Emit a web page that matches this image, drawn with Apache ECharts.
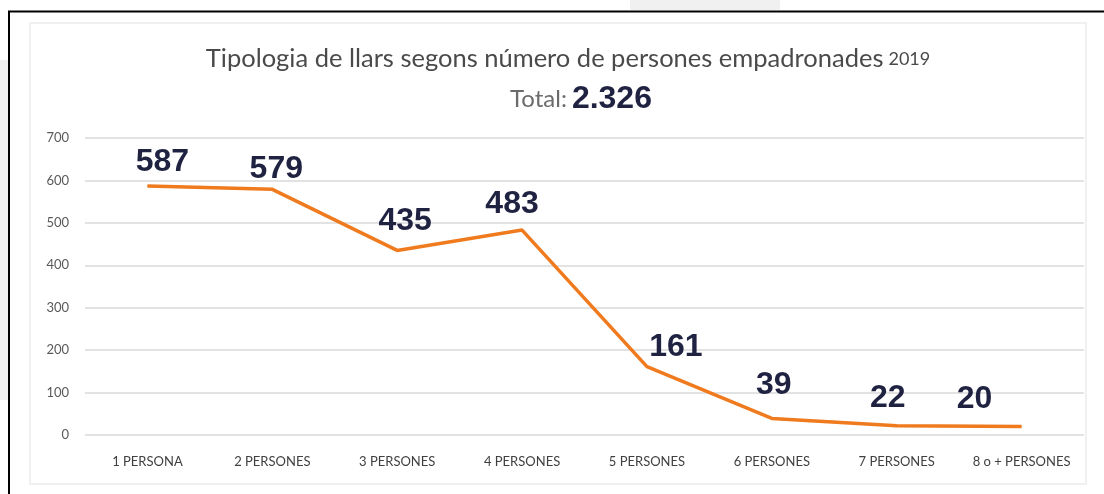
<!DOCTYPE html>
<html>
<head>
<meta charset="utf-8">
<script src="https://cdn.jsdelivr.net/npm/echarts@6/dist/echarts.min.js"></script>
<style>
  html, body { margin: 0; padding: 0; background: #fff; }
  #chart { width: 1104px; height: 494px; }
</style>
</head>
<body>
<div id="chart"></div>
<script>
// dades
var categories = ['1 PERSONA', '2 PERSONES', '3 PERSONES', '4 PERSONES', '5 PERSONES', '6 PERSONES', '7 PERSONES', '8 o + PERSONES'];
var llars = [587, 579, 435, 483, 161, 39, 22, 20];
var yTicks = [0, 100, 200, 300, 400, 500, 600, 700];
var titleText = 'Tipologia de llars segons número de persones empadronades';
var titleYear = '2019';
var totalText = '2.326';

// desplaçament manual de les etiquetes (com a l'original)
var labelShift = [[15, -2], [4, 1], [8, -8], [-10, -4], [29, 2], [2, -12], [-9, -6], [-47, -6]];

var myChart = echarts.init(document.getElementById('chart'));

var seriesData = llars.map(function (v, i) {
    return { value: v, label: { offset: labelShift[i] } };
});

var option = {
    backgroundColor: '#fff',
    animation: false,
    title: [
        {
            text: '{a|' + titleText + '} {b|' + titleYear + '}',
            left: 563,
            top: 41,
            textAlign: 'center',
            textStyle: {
                rich: {
                    a: { fontFamily: 'Lato', fontSize: 25.5, fontWeight: 'normal', color: '#4a4a4a' },
                    b: { fontFamily: 'Lato', fontSize: 18, fontWeight: 'normal', color: '#4a4a4a' }
                }
            }
        },
        {
            text: '{a|Total:} {b|' + totalText + '}',
            left: 576,
            top: 78,
            textAlign: 'center',
            textStyle: {
                rich: {
                    a: { fontFamily: 'Lato', fontSize: 24, fontWeight: 'normal', color: '#6b6b6b' },
                    b: { fontFamily: 'Liberation Sans', fontSize: 32, fontWeight: 'bold', color: '#1f2240' }
                }
            }
        }
    ],
    grid: { left: 85, right: 20, top: 138, bottom: 59 },
    xAxis: {
        type: 'category',
        data: categories,
        boundaryGap: true,
        axisLine: { show: false },
        axisTick: { show: false },
        axisLabel: {
            margin: 20,
            interval: 0,
            fontFamily: 'Lato',
            fontSize: 13,
            color: '#404040'
        }
    },
    yAxis: {
        type: 'value',
        min: yTicks[0],
        max: yTicks[yTicks.length - 1],
        interval: 100,
        axisLine: { show: false },
        axisTick: { show: false },
        axisLabel: {
            margin: 16,
            fontFamily: 'Lato',
            fontSize: 13,
            color: '#595959'
        },
        splitLine: { lineStyle: { color: '#d9d9d9', width: 1.5 } }
    },
    graphic: [
        { type: 'rect', shape: { x: 630, y: 0, width: 150, height: 10 }, style: { fill: '#f0f0f0' }, silent: true },
        { type: 'rect', shape: { x: 0, y: 60, width: 8, height: 340 }, style: { fill: '#f0f0f0' }, silent: true },
        { type: 'rect', shape: { x: 30, y: 23, width: 1056, height: 461 }, style: { fill: 'none', stroke: '#ececec', lineWidth: 1.5 }, silent: true },
        { type: 'line', shape: { x1: 8, y1: 11.5, x2: 1104, y2: 11.5 }, style: { stroke: '#000', lineWidth: 2 }, silent: true },
        { type: 'line', shape: { x1: 9, y1: 11, x2: 9, y2: 494 }, style: { stroke: '#000', lineWidth: 2 }, silent: true }
    ],
    series: [
        {
            name: 'Llars',
            type: 'line',
            data: seriesData,
            showSymbol: true,
            symbol: 'circle',
            symbolSize: 1,
            itemStyle: { color: '#f07a1e' },
            lineStyle: { color: '#f07a1e', width: 3.5 },
            label: {
                show: true,
                position: 'top',
                distance: 5,
                fontFamily: 'Liberation Sans',
                fontWeight: 'bold',
                fontSize: 32,
                color: '#1f2240'
            }
        }
    ]
};

myChart.setOption(option);
</script>
</body>
</html>
